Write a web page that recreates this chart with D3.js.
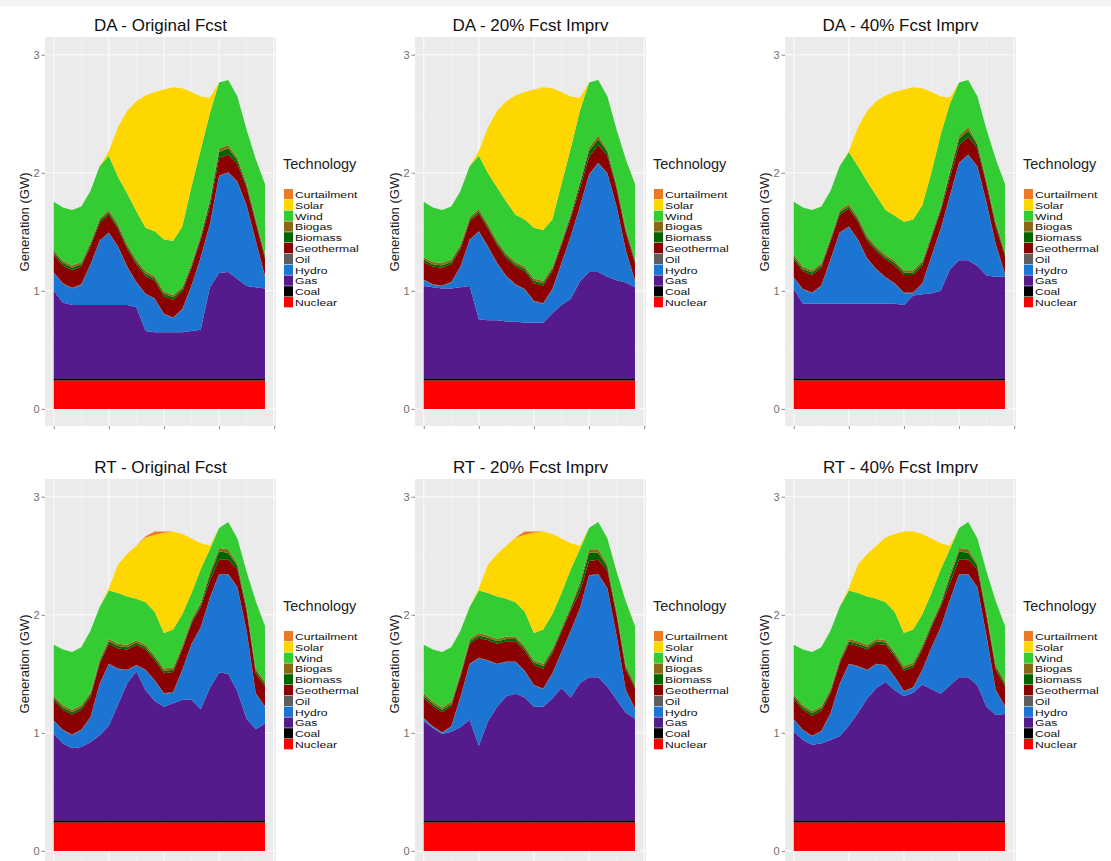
<!DOCTYPE html>
<html>
<head>
<meta charset="utf-8">
<script src="https://cdn.jsdelivr.net/npm/d3@7"></script>
<style>
body { margin: 0; background: #fff; }
svg { display: block; font-family: "Liberation Sans", Arial, sans-serif; }
</style>
</head>
<body>
<svg id="chart" width="1111" height="861"></svg>
<script>
// hours of the day (x)
var hours = [0,1,2,3,4,5,6,7,8,9,10,11,12,13,14,15,16,17,18,19,20,21,22,23];

// stacking order, bottom to top
var techs = ["Nuclear","Coal","Gas","Hydro","Oil","Geothermal","Biomass","Biogas","Wind","Solar","Curtailment"];
var techColors = ["#ff0000","#000000","#551a8b","#1c75d2","#5e5e5e","#8b0000","#006400","#8b6914","#33cc33","#ffd700","#ec7a24"];

var panelTitles = ["DA - Original Fcst","DA - 20% Fcst Imprv","DA - 40% Fcst Imprv",
                   "RT - Original Fcst","RT - 20% Fcst Imprv","RT - 40% Fcst Imprv"];

// GW, shared by all scenarios
var nuclear = [0.24,0.24,0.24,0.24,0.24,0.24,0.24,0.24,0.24,0.24,0.24,0.24,0.24,0.24,0.24,0.24,0.24,0.24,0.24,0.24,0.24,0.24,0.24,0.24];
var coal    = [0.02,0.02,0.02,0.02,0.02,0.02,0.02,0.02,0.02,0.02,0.02,0.02,0.02,0.02,0.02,0.02,0.02,0.02,0.02,0.02,0.02,0.02,0.02,0.02];
var oil     = [0.005,0.005,0.005,0.005,0.005,0.005,0.005,0.005,0.005,0.005,0.005,0.005,0.005,0.005,0.005,0.005,0.005,0.005,0.005,0.005,0.005,0.005,0.005,0.005];
var noCurtail = [0,0,0,0,0,0,0,0,0,0,0,0,0,0,0,0,0,0,0,0,0,0,0,0];

// day-ahead thermal
var daGeothermal = [0.15,0.15,0.15,0.15,0.15,0.15,0.15,0.15,0.15,0.15,0.15,0.15,0.15,0.15,0.15,0.15,0.15,0.15,0.15,0.15,0.15,0.15,0.15,0.15];
var daBiomass    = [0.02,0.02,0.02,0.02,0.02,0.02,0.02,0.02,0.02,0.02,0.02,0.02,0.02,0.02,0.02,0.02,0.02,0.04,0.05,0.05,0.03,0.02,0.02,0.02];
var daBiogas     = [0.02,0.02,0.02,0.02,0.02,0.02,0.02,0.02,0.02,0.02,0.02,0.02,0.02,0.02,0.02,0.02,0.02,0.02,0.03,0.03,0.02,0.02,0.02,0.02];
// real-time thermal
var rtGeothermal = [0.17,0.17,0.17,0.17,0.17,0.17,0.17,0.17,0.17,0.17,0.17,0.17,0.17,0.17,0.17,0.17,0.17,0.14,0.12,0.12,0.15,0.17,0.17,0.17];
var rtBiomass    = [0.02,0.02,0.02,0.02,0.02,0.02,0.02,0.02,0.02,0.02,0.02,0.02,0.02,0.02,0.02,0.02,0.02,0.05,0.07,0.06,0.03,0.02,0.02,0.02];
var rtBiogas     = [0.02,0.02,0.02,0.02,0.02,0.02,0.02,0.02,0.02,0.02,0.02,0.02,0.02,0.02,0.02,0.02,0.02,0.03,0.03,0.03,0.02,0.02,0.02,0.02];

// DA - Original Fcst
var daOrigGas   = [0.74,0.64,0.62,0.62,0.62,0.62,0.62,0.62,0.62,0.60,0.40,0.39,0.39,0.39,0.39,0.40,0.41,0.77,0.89,0.90,0.84,0.78,0.77,0.76];
var daOrigHydro = [0.15,0.16,0.14,0.17,0.34,0.54,0.61,0.49,0.32,0.21,0.31,0.28,0.15,0.12,0.19,0.38,0.61,0.53,0.82,0.84,0.82,0.68,0.39,0.10];
var daOrigWind  = [0.41,0.45,0.47,0.47,0.43,0.44,0.46,0.40,0.43,0.41,0.37,0.38,0.44,0.46,0.51,0.65,0.72,0.73,0.56,0.55,0.52,0.45,0.50,0.59];
var daOrigSolar = [0,0,0,0,0,0,0.04,0.42,0.70,0.93,1.12,1.18,1.27,1.30,1.17,0.80,0.45,0.13,0,0,0,0,0,0];

// DA - 20% Fcst Imprv
var da20Gas   = [0.78,0.77,0.76,0.76,0.77,0.78,0.50,0.49,0.49,0.48,0.48,0.47,0.47,0.47,0.55,0.62,0.67,0.82,0.90,0.90,0.86,0.83,0.81,0.77];
var da20Hydro = [0.05,0.02,0.02,0.05,0.17,0.39,0.74,0.62,0.48,0.38,0.31,0.28,0.18,0.16,0.20,0.35,0.53,0.63,0.82,0.92,0.87,0.62,0.27,0.05];
var da20Wind  = [0.47,0.46,0.45,0.45,0.45,0.43,0.45,0.43,0.45,0.44,0.40,0.40,0.43,0.43,0.40,0.48,0.55,0.60,0.55,0.47,0.45,0.46,0.58,0.63];
var da20Solar = [0,0,0,0,0,0,0.04,0.39,0.65,0.85,1.01,1.08,1.17,1.21,1.11,0.78,0.44,0.11,0,0,0,0,0,0];

// DA - 40% Fcst Imprv
var da40Gas   = [0.76,0.63,0.63,0.63,0.63,0.63,0.63,0.63,0.63,0.63,0.63,0.63,0.62,0.70,0.71,0.72,0.74,0.92,1.00,1.00,0.95,0.87,0.86,0.86];
var da40Hydro = [0.09,0.12,0.09,0.15,0.37,0.60,0.65,0.54,0.38,0.29,0.22,0.17,0.10,0.02,0.09,0.31,0.52,0.62,0.82,0.89,0.84,0.61,0.27,0.02];
var da40Wind  = [0.45,0.50,0.51,0.48,0.39,0.37,0.44,0.43,0.46,0.43,0.38,0.38,0.41,0.43,0.47,0.52,0.61,0.57,0.45,0.40,0.39,0.43,0.53,0.57];
var da40Solar = [0,0,0,0,0,0,0.01,0.33,0.60,0.80,0.97,1.05,1.12,1.12,0.99,0.68,0.32,0.05,0,0,0,0,0,0];

// RT - Original Fcst
var rtOrigGas     = [0.73,0.65,0.61,0.62,0.66,0.72,0.80,0.98,1.16,1.26,1.10,1.01,0.96,0.99,1.02,1.02,0.94,1.12,1.25,1.24,1.09,0.86,0.77,0.82];
var rtOrigHydro   = [0.11,0.11,0.11,0.14,0.21,0.43,0.52,0.30,0.11,0.05,0.17,0.17,0.11,0.09,0.25,0.47,0.69,0.76,0.83,0.84,0.88,0.74,0.30,0.14];
var rtOrigWind    = [0.43,0.47,0.49,0.49,0.52,0.44,0.41,0.43,0.41,0.35,0.36,0.37,0.30,0.32,0.26,0.22,0.28,0.19,0.17,0.23,0.21,0.29,0.57,0.47];
var rtOrigSolar   = [0,0,0,0,0,0,0.02,0.24,0.36,0.45,0.55,0.65,0.85,0.83,0.68,0.46,0.22,0.03,0,0,0,0,0,0];
var rtOrigCurtail = [0,0,0,0,0,0,0,0,0,0,0.01,0.03,0.01,0,0,0,0,0,0,0,0,0,0,0];

// RT - 20% Fcst Imprv
var rt20Gas     = [0.84,0.78,0.73,0.75,0.79,0.85,0.63,0.84,0.96,1.05,1.07,1.04,0.96,0.96,1.03,1.12,1.04,1.16,1.21,1.21,1.13,1.02,0.91,0.86];
var rt20Hydro   = [0.02,0.01,0.01,0.04,0.25,0.47,0.74,0.51,0.36,0.29,0.27,0.22,0.18,0.15,0.21,0.30,0.56,0.63,0.86,0.87,0.83,0.54,0.19,0.08];
var rt20Wind    = [0.41,0.44,0.47,0.46,0.35,0.27,0.36,0.36,0.36,0.32,0.29,0.29,0.23,0.29,0.29,0.29,0.31,0.28,0.18,0.23,0.22,0.33,0.54,0.49];
var rt20Solar   = [0,0,0,0,0,0,0.02,0.24,0.36,0.45,0.55,0.65,0.85,0.83,0.68,0.46,0.22,0.03,0,0,0,0,0,0];
var rt20Curtail = [0,0,0,0,0,0,0,0,0,0,0,0.03,0.01,0,0,0,0,0,0,0,0,0,0,0];

// RT - 40% Fcst Imprv
var rt40Gas   = [0.75,0.68,0.64,0.65,0.68,0.71,0.80,0.91,1.03,1.12,1.17,1.10,1.05,1.08,1.15,1.11,1.07,1.14,1.21,1.21,1.14,0.96,0.89,0.90];
var rt40Hydro = [0.10,0.08,0.07,0.10,0.22,0.44,0.52,0.39,0.24,0.20,0.14,0.11,0.04,0.04,0.12,0.35,0.56,0.72,0.87,0.87,0.83,0.59,0.21,0.06];
var rt40Wind  = [0.42,0.47,0.50,0.50,0.49,0.44,0.41,0.41,0.41,0.34,0.32,0.34,0.28,0.28,0.26,0.25,0.28,0.21,0.17,0.23,0.21,0.34,0.54,0.47];
var rt40Solar = [0,0,0,0,0,0,0.02,0.24,0.36,0.45,0.55,0.66,0.86,0.83,0.68,0.46,0.22,0.03,0,0,0,0,0,0];

var yTicks = [0,1,2,3];
var xTicks = [0,6,12,18,24];

// series per panel, in the order of techs
var panels = [
  [nuclear, coal, daOrigGas, daOrigHydro, oil, daGeothermal, daBiomass, daBiogas, daOrigWind, daOrigSolar, noCurtail],
  [nuclear, coal, da20Gas,   da20Hydro,   oil, daGeothermal, daBiomass, daBiogas, da20Wind,   da20Solar,   noCurtail],
  [nuclear, coal, da40Gas,   da40Hydro,   oil, daGeothermal, daBiomass, daBiogas, da40Wind,   da40Solar,   noCurtail],
  [nuclear, coal, rtOrigGas, rtOrigHydro, oil, rtGeothermal, rtBiomass, rtBiogas, rtOrigWind, rtOrigSolar, rtOrigCurtail],
  [nuclear, coal, rt20Gas,   rt20Hydro,   oil, rtGeothermal, rtBiomass, rtBiogas, rt20Wind,   rt20Solar,   rt20Curtail],
  [nuclear, coal, rt40Gas,   rt40Hydro,   oil, rtGeothermal, rtBiomass, rtBiogas, rt40Wind,   rt40Solar,   noCurtail]
];

var svg = d3.select("#chart"),
    panelW = 231,
    panelH = 389,
    colStep = 370,
    rowStep = 442;

var x = d3.scaleLinear().domain([-0.95, 24.2]).range([0, panelW]);
var y = d3.scaleLinear().domain([-0.145, 3.15]).range([panelH, 0]);

var area = d3.area()
    .x(function(d) { return x(d.data.hour); })
    .y0(function(d) { return y(d[0]); })
    .y1(function(d) { return y(d[1]); });

// faint band at the very top of the page
svg.append("rect").attr("x", 0).attr("y", 0).attr("width", 1111).attr("height", 6).attr("fill", "#f4f4f4");

panels.forEach(function(series, i) {
    var ox = (i % 3) * colStep,
        oy = Math.floor(i / 3) * rowStep;

    var g = svg.append("g").attr("transform", "translate(" + (ox + 45) + "," + (oy + 37) + ")");

    g.append("rect").attr("width", panelW).attr("height", panelH).attr("fill", "#ebebeb");

    // minor grid
    g.selectAll(".ymin").data([0.5, 1.5, 2.5]).enter().append("line")
        .attr("x1", 0).attr("x2", panelW)
        .attr("y1", function(d) { return y(d); }).attr("y2", function(d) { return y(d); })
        .attr("stroke", "#f5f5f5").attr("stroke-width", 0.6);
    g.selectAll(".xmin").data([3, 9, 15, 21]).enter().append("line")
        .attr("y1", 0).attr("y2", panelH)
        .attr("x1", function(d) { return x(d); }).attr("x2", function(d) { return x(d); })
        .attr("stroke", "#f5f5f5").attr("stroke-width", 0.6);
    // major grid
    g.selectAll(".ymaj").data(yTicks).enter().append("line")
        .attr("x1", 0).attr("x2", panelW)
        .attr("y1", function(d) { return y(d); }).attr("y2", function(d) { return y(d); })
        .attr("stroke", "#fbfbfb").attr("stroke-width", 1.1);
    g.selectAll(".xmaj").data(xTicks).enter().append("line")
        .attr("y1", 0).attr("y2", panelH)
        .attr("x1", function(d) { return x(d); }).attr("x2", function(d) { return x(d); })
        .attr("stroke", "#fbfbfb").attr("stroke-width", 1.1);

    var rows = hours.map(function(h, j) {
        var r = {hour: h};
        techs.forEach(function(t, k) { r[t] = series[k][j]; });
        return r;
    });
    var layers = d3.stack().keys(techs)(rows);

    g.selectAll(".layer").data(layers).enter().append("path")
        .attr("class", "layer")
        .attr("d", area)
        .attr("fill", function(d, k) { return techColors[k]; });

    // axes
    var ya = g.append("g").call(d3.axisLeft(y).tickValues(yTicks).tickSize(3.5).tickPadding(2).tickFormat(d3.format("d")));
    ya.select(".domain").remove();
    ya.selectAll("line").attr("stroke", "#8a8a8a");
    ya.selectAll("text").attr("fill", "#6f6f6f").style("font-size", "11px").style("font-family", "Liberation Sans, Arial, sans-serif");

    var xa = g.append("g").attr("transform", "translate(0," + panelH + ")")
        .call(d3.axisBottom(x).tickValues(xTicks).tickSize(3).tickFormat(""));
    xa.select(".domain").remove();
    xa.selectAll("line").attr("stroke", "#8a8a8a");

    // title
    svg.append("text")
        .attr("x", ox + 160.5).attr("y", oy + 31)
        .attr("text-anchor", "middle")
        .style("font-size", "17px")
        .attr("fill", "#111")
        .text(panelTitles[i]);

    // y label
    svg.append("text")
        .attr("transform", "translate(" + (ox + 29) + "," + (oy + 222) + ") rotate(-90)")
        .attr("text-anchor", "middle")
        .style("font-size", "13px")
        .attr("fill", "#222")
        .text("Generation (GW)");

    // legend
    var lg = svg.append("g").attr("transform", "translate(" + (ox + 283) + "," + (oy + 169) + ")");
    lg.append("text").attr("x", 0).attr("y", 0).style("font-size", "14.5px").attr("fill", "#222").text("Technology");
    var legendOrder = techs.slice().reverse();
    var items = lg.selectAll(".key").data(legendOrder).enter().append("g")
        .attr("transform", function(d, k) { return "translate(0," + (20 + k * 10.8) + ")"; });
    items.append("rect")
        .attr("x", 1).attr("y", 0).attr("width", 9).attr("height", 10.3)
        .attr("fill", function(d) { return techColors[techs.indexOf(d)]; });
    // labels are squeezed vertically in the original, so draw them small and widen them
    items.append("text")
        .attr("transform", "translate(12,8.9) scale(1.27,1)")
        .style("font-size", "9.6px")
        .attr("fill", "#111")
        .text(function(d) { return d; });
});
</script>
</body>
</html>
